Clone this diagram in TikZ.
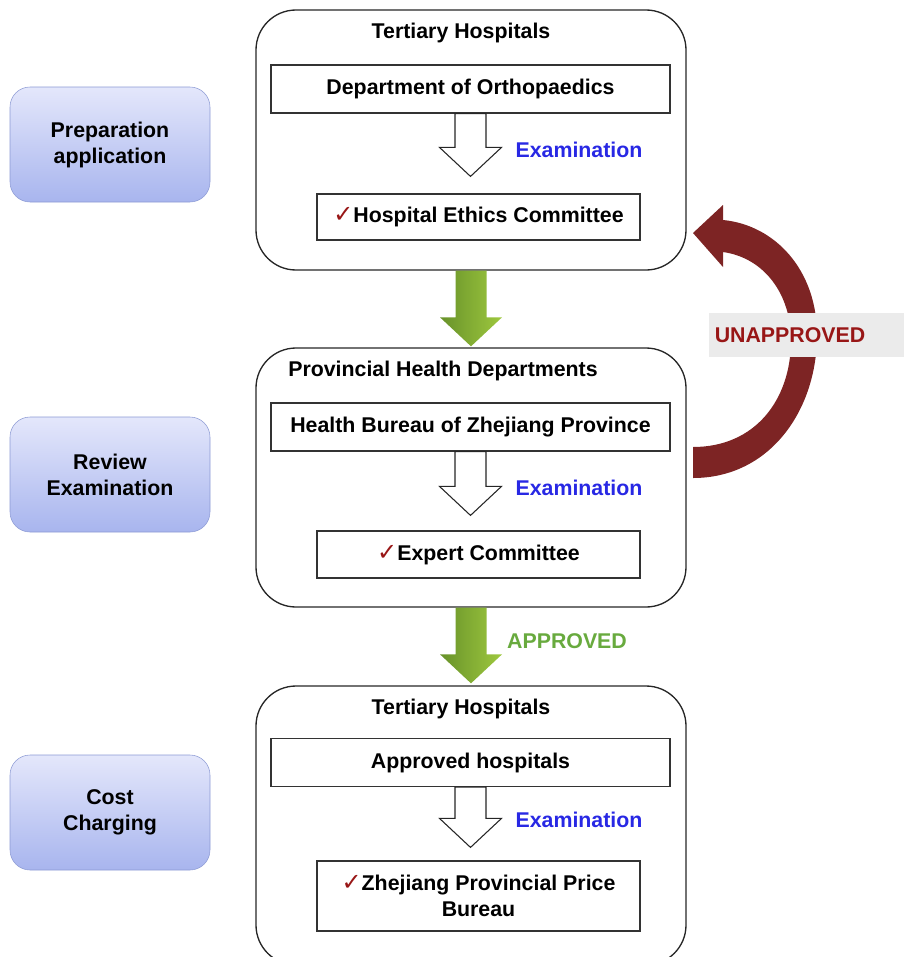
\documentclass[tikz,border=0pt]{standalone}
\usepackage{fontspec}
\setmainfont{Liberation Sans}
\newfontfamily\symfont{DejaVu Sans}
\usetikzlibrary{calc}

\definecolor{phasetop}{RGB}{228,231,251}
\definecolor{phasebottom}{RGB}{168,181,238}
\definecolor{phaseedge}{RGB}{140,154,212}
\definecolor{exblue}{RGB}{40,40,228}
\definecolor{okgreen}{RGB}{104,170,62}
\definecolor{greendark}{RGB}{104,146,42}
\definecolor{greenlight}{RGB}{158,200,62}
\definecolor{backred}{RGB}{125,36,36}
\definecolor{labelred}{RGB}{152,22,22}
\definecolor{labelgray}{RGB}{235,235,235}

\tikzstyle{stage}=[draw=black!85, rounded corners=30pt, line width=1pt, minimum width=322.5pt]
\tikzstyle{unit}=[draw=black!80, line width=0.9pt, minimum width=299.25pt, minimum height=36pt]
\tikzstyle{result}=[draw=black!80, line width=0.9pt, minimum width=242.25pt, align=center]
\tikzstyle{phase}=[draw=phaseedge, rounded corners=15pt, top color=phasetop, bottom color=phasebottom, minimum width=150pt, minimum height=86.25pt, align=center]
\tikzstyle{hollow}=[draw=black!85, fill=white, line width=0.8pt]
\tikzstyle{pass}=[left color=greendark, right color=greenlight]
\tikzstyle{exam}=[text=exblue]

\newcommand{\ok}{{\symfont\color{labelred}\fontsize{18}{18}\selectfont ✓}}
% block arrow: style, from node, to node, gap above target
\newcommand{\blockarrow}[4]{%
  \coordinate (tip) at ($(#3.north -| #2.south)+(0,-#4)$);
  \path[#1] ($(#2.south)+(-15.5,0)$) -- ($(#2.south)+(15.5,0)$)
    -- ($(tip)+(15.5,-29)$) -- ($(tip)+(31,-29)$) -- (tip)
    -- ($(tip)+(-31,-29)$) -- ($(tip)+(-15.5,-29)$) -- cycle;
}

\begin{document}
\begin{tikzpicture}[x=0.75pt, y=-0.75pt, font=\bfseries\fontsize{16}{19.5}\selectfont]
  \useasboundingbox (0,0) rectangle (904,957);
  \clip (0,0) rectangle (904,957);

  % left phases
  \node (prep) at (110,144.5)[phase] {Preparation\\application};
  \node (review) at (110,474.5)[phase] {Review\\Examination};
  \node (cost) at (110,812.5)[phase] {Cost\\Charging};

  % stage boxes
  \node (s1) at (471,140)[stage, minimum height=195pt] {};
  \node (s2) at (471,477.5)[stage, minimum height=194.25pt] {};
  \node (s3) at (471,825.5)[stage, minimum height=209.25pt] {};

  \node (t1) at (461,33) {Tertiary Hospitals};
  \node (t2) at (443,371) {Provincial Health Departments};
  \node (t3) at (461,709) {Tertiary Hospitals};

  % first stage
  \node (ortho) at (470.5,89)[unit] {Department of Orthopaedics};
  \node (ethics) at (478.5,217)[result, minimum height=34.5pt] {\ok Hospital Ethics Committee};
  \blockarrow{hollow}{ortho}{ethics}{17}
  \node (e1) at (579,150)[exam] {Examination};

  % second stage
  \node (bureau) at (470.5,427)[unit] {Health Bureau of Zhejiang Province};
  \node (expert) at (478.5,554.5)[result, minimum height=35.25pt] {\ok Expert Committee};
  \blockarrow{hollow}{bureau}{expert}{15}
  \node (e2) at (579,488)[exam] {Examination};

  % third stage
  \node (approved) at (470.5,762.5)[unit] {Approved hospitals};
  \node (price) at (478.5,896)[result, minimum height=52.5pt] {\ok Zhejiang Provincial Price\\Bureau};
  \blockarrow{hollow}{approved}{price}{13}
  \node (e3) at (579,820)[exam] {Examination};

  % flow between stages
  \blockarrow{pass}{s1}{s2}{1}
  \blockarrow{pass}{s2}{s3}{2}
  \node (ok) at (567,641)[text=okgreen] {APPROVED};

  % back arrow
  \fill[backred] (693,478) .. controls (770,478) and (817,410) .. (817,335)
    .. controls (817,270) and (775,225) .. (723,220)
    -- (723,205) -- (693,233) -- (723,267) -- (723,252)
    .. controls (765,258) and (791,295) .. (791,340)
    .. controls (791,400) and (755,447) .. (693,447) -- cycle;
  \node (no) at (709,335)[anchor=west, fill=labelgray, minimum width=146.25pt, minimum height=33pt,
    text width=138pt, inner xsep=4pt, align=left, text=labelred] {UNAPPROVED};
\end{tikzpicture}
\end{document}
